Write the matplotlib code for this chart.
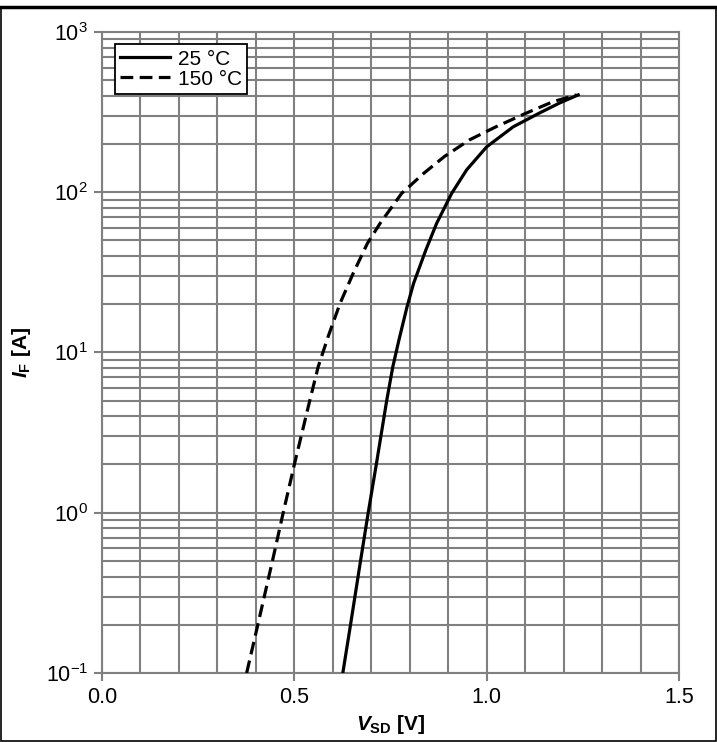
import numpy as np
import matplotlib
matplotlib.use("Agg")
import matplotlib.pyplot as plt
from matplotlib.ticker import FixedLocator, LogLocator, NullFormatter

plt.rcParams['font.family'] = ['Liberation Sans', 'DejaVu Sans']
plt.rcParams['mathtext.fontset'] = 'custom'
plt.rcParams['mathtext.rm'] = 'Liberation Sans'
plt.rcParams['mathtext.it'] = 'Liberation Sans:italic:bold'
plt.rcParams['mathtext.bf'] = 'Liberation Sans:bold'

# 25 °C curve: forward current [A] vs source-drain voltage [V]
i_25c = [0.1, 0.2, 0.5, 1, 2, 5, 8.15, 12, 19.3, 27, 43.7, 64, 98.4,
         138, 192, 256, 311, 359, 405]
v_25c = [0.626, 0.646, 0.672, 0.692, 0.713, 0.740, 0.756, 0.772, 0.793,
         0.810, 0.842, 0.870, 0.909, 0.948, 1.000, 1.069, 1.136, 1.188, 1.238]

# 150 °C curve
i_150c = [0.1, 0.2, 0.5, 1, 2, 5, 8.15, 12.6, 20.3, 31.2, 48, 64, 98.4,
          131, 167, 212, 256, 311, 367, 405]
v_150c = [0.376, 0.405, 0.443, 0.471, 0.500, 0.540, 0.562, 0.588, 0.619,
          0.653, 0.690, 0.723, 0.779, 0.836, 0.890, 0.955, 1.024, 1.102,
          1.172, 1.234]

x_ticks = [0.0, 0.5, 1.0, 1.5]
x_ticklabels = ["0.0", "0.5", "1.0", "1.5"]
y_ticks = [0.1, 1, 10, 100, 1000]
y_ticklabels = [r"10$^{\mathregular{-1}}$", r"10$^{\mathregular{0}}$",
                r"10$^{\mathregular{1}}$", r"10$^{\mathregular{2}}$",
                r"10$^{\mathregular{3}}$"]

grid_gray = "#808080"

fig = plt.figure(figsize=(7.17, 7.42), dpi=100)
ax = fig.add_axes([0.1423, 0.0930, 0.8047, 0.8639])

ax.plot(v_25c, i_25c, color="black", lw=2.3, label="25 °C", zorder=3,
        solid_joinstyle="round")
ax.plot(v_150c, i_150c, color="black", lw=2.3, linestyle=(0, (4, 2)),
        label="150 °C", zorder=3)

ax.set_yscale("log")
ax.set_xlim(0, 1.5)
ax.set_ylim(0.1, 1000)

ax.set_xticks(x_ticks)
ax.set_xticklabels(x_ticklabels)
ax.xaxis.set_minor_locator(FixedLocator(np.arange(0, 1.51, 0.1)))
ax.set_yticks(y_ticks)
ax.set_yticklabels(y_ticklabels)
ax.yaxis.set_minor_locator(LogLocator(base=10, subs=np.arange(2, 10)))
ax.yaxis.set_minor_formatter(NullFormatter())

ax.tick_params(which="major", direction="out", length=6, width=1.5,
               color=grid_gray, labelsize=15.5, pad=4)
ax.tick_params(which="minor", length=0)
ax.grid(True, which="both", color=grid_gray, lw=1.5, zorder=1)
ax.set_axisbelow(True)
for s in ax.spines.values():
    s.set_color(grid_gray)
    s.set_linewidth(1.5)

ax.set_xlabel(r"$V_{\mathbf{SD}}$ [V]", fontsize=15, fontweight="bold",
              labelpad=4)
ax.set_ylabel(r"$I_{\mathbf{F}}$ [A]", fontsize=15, fontweight="bold",
              labelpad=9)

leg = ax.legend(loc="upper left", bbox_to_anchor=(0.0, 1.0),
                fontsize=15, frameon=True, fancybox=False,
                handlelength=2.4, handletextpad=0.4, borderpad=0.25,
                labelspacing=0.05, borderaxespad=0.6)
leg.get_frame().set_edgecolor("black")
leg.get_frame().set_linewidth(1.3)
leg.get_frame().set_alpha(1)

# page frame
fig.add_artist(plt.Line2D([0, 1], [0.99, 0.99], color="black", lw=2.5,
                          transform=fig.transFigure))
fig.add_artist(plt.Rectangle((0.001, 0.002), 0.997, 0.988, fill=False,
                             edgecolor="black", lw=1.2,
                             transform=fig.transFigure))

fig.savefig("out.png", dpi=100)
